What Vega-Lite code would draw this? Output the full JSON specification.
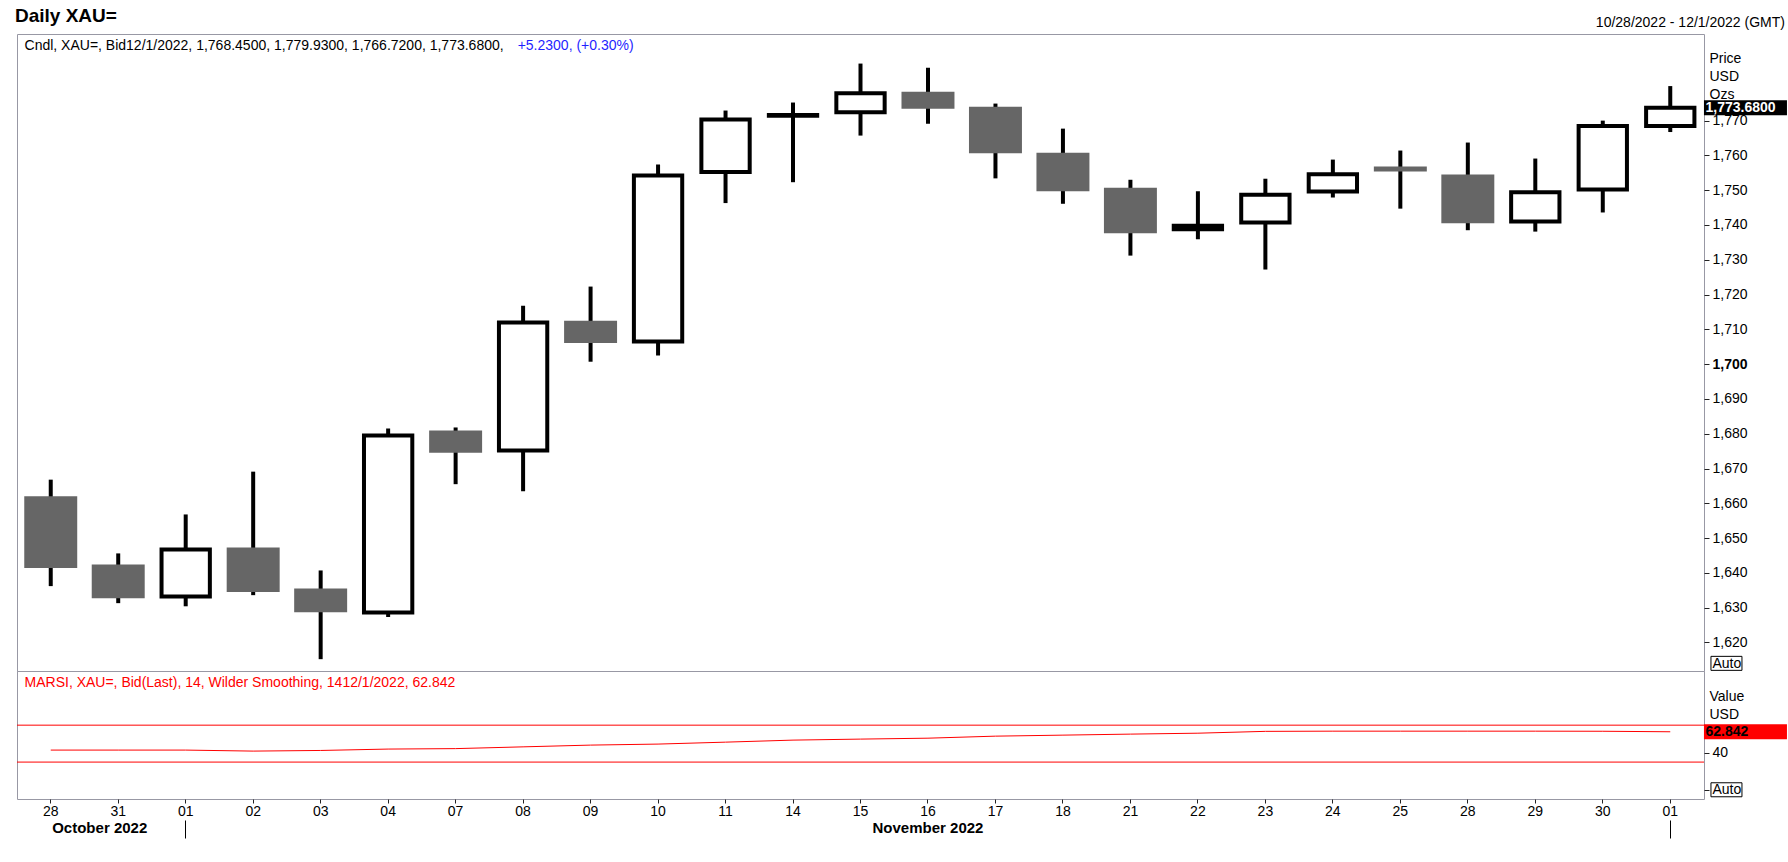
{
  "$schema": "https://vega.github.io/schema/vega-lite/v6.json",
  "description": "Daily XAU= candlesticks with a Wilder-smoothed RSI panel, 28 Oct - 1 Dec 2022.",
  "background": "white",
  "padding": {"left": 15, "top": 6, "right": 0, "bottom": 0},
  "title": {
    "text": "Daily XAU=",
    "anchor": "start",
    "frame": "group",
    "font": "Liberation Sans",
    "fontSize": 19,
    "fontWeight": "bold",
    "color": "black",
    "offset": -10,
    "dx": -2
  },
  "config": {
    "font": "Liberation Sans",
    "view": {"stroke": "#9898a4", "strokeWidth": 1},
    "axis": {
      "labelFont": "Liberation Sans",
      "labelFontSize": 14,
      "labelColor": "black",
      "titleFont": "Liberation Sans",
      "titleFontSize": 14,
      "titleFontWeight": "normal",
      "titleColor": "black",
      "grid": false,
      "domain": false,
      "tickColor": "#222222",
      "labelOverlap": false,
      "labelFlush": false
    }
  },
  "data": {
    "values": [
      {"date": "2022-10-28", "open": 1662.0, "high": 1666.8, "low": 1636.2, "close": 1641.4, "rsi": 43.0},
      {"date": "2022-10-31", "open": 1642.4, "high": 1645.6, "low": 1631.3, "close": 1632.7, "rsi": 43.0},
      {"date": "2022-11-01", "open": 1633.2, "high": 1656.8, "low": 1630.4, "close": 1646.7, "rsi": 43.0},
      {"date": "2022-11-02", "open": 1647.3, "high": 1669.1, "low": 1633.6, "close": 1634.5, "rsi": 41.9},
      {"date": "2022-11-03", "open": 1635.5, "high": 1640.7, "low": 1615.2, "close": 1628.7, "rsi": 42.6},
      {"date": "2022-11-04", "open": 1628.6, "high": 1681.5, "low": 1627.3, "close": 1679.5, "rsi": 44.1},
      {"date": "2022-11-07", "open": 1680.9, "high": 1681.8, "low": 1665.5, "close": 1674.5, "rsi": 44.6},
      {"date": "2022-11-08", "open": 1675.2, "high": 1716.8, "low": 1663.5, "close": 1712.0, "rsi": 46.5},
      {"date": "2022-11-09", "open": 1712.5, "high": 1722.3, "low": 1700.7, "close": 1706.1, "rsi": 48.4},
      {"date": "2022-11-10", "open": 1706.5, "high": 1757.4, "low": 1702.5, "close": 1754.2, "rsi": 49.5},
      {"date": "2022-11-11", "open": 1755.2, "high": 1772.9, "low": 1746.3, "close": 1770.3, "rsi": 51.6},
      {"date": "2022-11-14", "open": 1771.4, "high": 1775.2, "low": 1752.3, "close": 1771.6, "rsi": 53.8},
      {"date": "2022-11-15", "open": 1772.4, "high": 1786.4, "low": 1765.7, "close": 1777.9, "rsi": 54.9},
      {"date": "2022-11-16", "open": 1778.3, "high": 1785.2, "low": 1769.1, "close": 1773.4, "rsi": 55.9},
      {"date": "2022-11-17", "open": 1774.0, "high": 1774.9, "low": 1753.4, "close": 1760.6, "rsi": 58.1},
      {"date": "2022-11-18", "open": 1760.8, "high": 1767.7, "low": 1746.1, "close": 1749.7, "rsi": 59.2},
      {"date": "2022-11-21", "open": 1750.7, "high": 1753.0, "low": 1731.2, "close": 1737.6, "rsi": 60.3},
      {"date": "2022-11-22", "open": 1738.8, "high": 1749.7, "low": 1735.9, "close": 1739.8, "rsi": 61.3},
      {"date": "2022-11-23", "open": 1740.7, "high": 1753.3, "low": 1727.2, "close": 1748.7, "rsi": 63.3},
      {"date": "2022-11-24", "open": 1749.6, "high": 1758.8, "low": 1747.9, "close": 1754.6, "rsi": 63.5},
      {"date": "2022-11-25", "open": 1756.8, "high": 1761.4, "low": 1744.7, "close": 1755.4, "rsi": 63.5},
      {"date": "2022-11-28", "open": 1754.5, "high": 1763.7, "low": 1738.5, "close": 1740.5, "rsi": 63.5},
      {"date": "2022-11-29", "open": 1741.0, "high": 1759.1, "low": 1738.1, "close": 1749.4, "rsi": 63.5},
      {"date": "2022-11-30", "open": 1750.2, "high": 1770.0, "low": 1743.6, "close": 1768.45, "rsi": 63.4},
      {"date": "2022-12-01", "open": 1768.45, "high": 1779.93, "low": 1766.72, "close": 1773.68, "rsi": 62.842}
    ]
  },
  "spacing": 0,
  "bounds": "flush",
  "vconcat": [
    {
      "width": 1687,
      "height": 637,
      "resolve": {"axis": {"y": "independent"}},
      "layer": [
        {
          "mark": {"type": "rule", "color": "black", "strokeWidth": 4},
          "encoding": {
            "x": {"field": "date", "type": "ordinal", "scale": {"type": "band", "paddingInner": 0, "paddingOuter": 0}, "axis": null},
            "y": {
              "field": "low",
              "type": "quantitative",
              "scale": {"domain": [1611.8, 1794.9], "nice": false, "zero": false},
              "axis": {
                "orient": "right",
                "values": [1614, 1620, 1630, 1640, 1650, 1660, 1670, 1680, 1690, 1700, 1710, 1720, 1730, 1740, 1750, 1760, 1770],
                "format": ",d",
                "labelOverlap": false,
                "labelExpr": "datum.value == 1614 ? 'Auto' : datum.label",
                "labelFontWeight": {"condition": {"test": "datum.value == 1700", "value": "bold"}, "value": "normal"},
                "tickOpacity": {"condition": {"test": "datum.value == 1614", "value": 0}, "value": 1},
                "tickSize": 5,
                "labelPadding": 3,
                "title": ["Price", "USD", "Ozs"],
                "titleAngle": 0,
                "titleAlign": "left",
                "titleBaseline": "top",
                "titleX": 5,
                "titleY": 17,
                "titleLineHeight": 18
              }
            },
            "y2": {"field": "high"}
          }
        },
        {
          "transform": [{"filter": "datum.close < datum.open"}],
          "mark": {"type": "bar", "fill": "#666666", "width": {"band": 0.785}},
          "encoding": {
            "x": {"field": "date", "type": "ordinal", "scale": {"type": "band", "paddingInner": 0, "paddingOuter": 0}, "axis": null},
            "y": {"field": "open", "type": "quantitative", "axis": null},
            "y2": {"field": "close"}
          }
        },
        {
          "transform": [{"filter": "datum.close >= datum.open"}],
          "mark": {"type": "bar", "fill": "white", "stroke": "black", "strokeWidth": 4, "width": {"band": 0.716}},
          "encoding": {
            "x": {"field": "date", "type": "ordinal", "scale": {"type": "band", "paddingInner": 0, "paddingOuter": 0}, "axis": null},
            "y": {"field": "open", "type": "quantitative", "axis": null},
            "y2": {"field": "close"}
          }
        },
        {
          "data": {"values": [{"t": "Cndl, XAU=, Bid12/1/2022, 1,768.4500, 1,779.9300, 1,766.7200, 1,773.6800,"}]},
          "mark": {"type": "text", "align": "left", "baseline": "alphabetic", "fontSize": 14, "color": "black", "dx": -26.2, "dy": 15.7},
          "encoding": {
            "x": {"datum": "2022-10-28", "type": "ordinal", "axis": null},
            "y": {"datum": 1794.9, "type": "quantitative", "axis": null},
            "text": {"field": "t"}
          }
        },
        {
          "data": {"values": [{"t": "+5.2300, (+0.30%)"}]},
          "mark": {"type": "text", "align": "left", "baseline": "alphabetic", "fontSize": 14, "color": "#1f1fff", "dx": 466.9, "dy": 15.7},
          "encoding": {
            "x": {"datum": "2022-10-28", "type": "ordinal", "axis": null},
            "y": {"datum": 1794.9, "type": "quantitative", "axis": null},
            "text": {"field": "t"}
          }
        },
        {
          "data": {"values": [{"t": "10/28/2022 - 12/1/2022 (GMT)"}]},
          "mark": {"type": "text", "align": "right", "baseline": "alphabetic", "fontSize": 14, "color": "black", "dx": 114.7, "dy": -6.8},
          "encoding": {
            "x": {"datum": "2022-12-01", "type": "ordinal", "axis": null},
            "y": {"datum": 1794.9, "type": "quantitative", "axis": null},
            "text": {"field": "t"}
          }
        },
        {
          "data": {"values": [{"price": 1773.68, "t": "1,773.6800"}]},
          "mark": {"type": "tick", "orient": "horizontal", "color": "black", "opacity": 1, "size": 83, "thickness": 15, "xOffset": 75.2},
          "encoding": {
            "x": {"datum": "2022-12-01", "type": "ordinal", "axis": null},
            "y": {"field": "price", "type": "quantitative", "axis": null}
          }
        },
        {
          "data": {"values": [{"price": 1773.68, "t": "1,773.6800"}]},
          "mark": {"type": "text", "align": "left", "baseline": "middle", "fontSize": 14, "fontWeight": "bold", "color": "white", "dx": 35.2},
          "encoding": {
            "x": {"datum": "2022-12-01", "type": "ordinal", "axis": null},
            "y": {"field": "price", "type": "quantitative", "axis": null},
            "text": {"field": "t"}
          }
        },
        {
          "data": {"values": [{"price": 1614}]},
          "mark": {"type": "tick", "orient": "horizontal", "filled": false, "color": "black", "opacity": 1, "strokeWidth": 1, "size": 31, "thickness": 14, "xOffset": 56.2},
          "encoding": {
            "x": {"datum": "2022-12-01", "type": "ordinal", "axis": null},
            "y": {"field": "price", "type": "quantitative", "axis": null}
          }
        }
      ]
    },
    {
      "width": 1687,
      "height": 128,
      "resolve": {"axis": {"x": "independent", "y": "independent"}},
      "layer": [
        {
          "data": {"values": [{"level": 70}, {"level": 30}]},
          "mark": {"type": "rule", "color": "red", "strokeWidth": 1},
          "encoding": {
            "y": {
              "field": "level",
              "type": "quantitative",
              "scale": {"domain": [-10, 128.7], "nice": false, "zero": false},
              "axis": {
                "orient": "right",
                "values": [0, 40],
                "labelOverlap": false,
                "labelExpr": "datum.value == 0 ? 'Auto' : datum.label",
                "tickSize": 5,
                "labelPadding": 3,
                "title": ["Value", "USD"],
                "titleAngle": 0,
                "titleAlign": "left",
                "titleBaseline": "top",
                "titleX": 5,
                "titleY": 18,
                "titleLineHeight": 18
              }
            }
          }
        },
        {
          "mark": {"type": "line", "color": "red", "strokeWidth": 1},
          "encoding": {
            "x": {
              "field": "date",
              "type": "ordinal",
              "scale": {"type": "band", "paddingInner": 0, "paddingOuter": 0},
              "axis": {
                "orient": "bottom",
                "title": null,
                "labelExpr": "substring(datum.value, 8, 10)",
                "labelAngle": 0,
                "tickSize": 4,
                "labelPadding": 1
              }
            },
            "y": {"field": "rsi", "type": "quantitative", "axis": null}
          }
        },
        {
          "data": {"values": [{"t": "MARSI, XAU=, Bid(Last),  14, Wilder Smoothing, 1412/1/2022, 62.842"}]},
          "mark": {"type": "text", "align": "left", "baseline": "alphabetic", "fontSize": 14, "color": "red", "dx": -26.2, "dy": 16},
          "encoding": {
            "x": {
              "datum": "2022-10-28",
              "type": "ordinal",
              "axis": {
                "orient": "bottom",
                "offset": 21,
                "title": null,
                "values": ["2022-10-31", "2022-11-01", "2022-11-16", "2022-12-01"],
                "labelExpr": "datum.value == '2022-10-31' ? 'October 2022' : datum.value == '2022-11-16' ? 'November 2022' : ''",
                "labelFontWeight": "bold",
                "labelFontSize": 15,
                "labelAngle": 0,
                "labelOffset": {"condition": {"test": "datum.value == '2022-10-31'", "value": -18.5}, "value": 0},
                "tickSize": 18,
                "tickColor": "black",
                "tickOpacity": {"condition": {"test": "datum.value == '2022-11-01' || datum.value == '2022-12-01'", "value": 1}, "value": 0},
                "labelPadding": -18
              }
            },
            "y": {"datum": 128.7, "type": "quantitative", "axis": null},
            "text": {"field": "t"}
          }
        },
        {
          "data": {"values": [{"v": 62.842, "t": "62.842"}]},
          "mark": {"type": "tick", "orient": "horizontal", "color": "red", "opacity": 1, "size": 83, "thickness": 15, "xOffset": 75.2},
          "encoding": {
            "x": {"datum": "2022-12-01", "type": "ordinal", "axis": null},
            "y": {"field": "v", "type": "quantitative", "axis": null}
          }
        },
        {
          "data": {"values": [{"v": 62.842, "t": "62.842"}]},
          "mark": {"type": "text", "align": "left", "baseline": "middle", "fontSize": 14, "fontWeight": "bold", "color": "black", "dx": 35.2},
          "encoding": {
            "x": {"datum": "2022-12-01", "type": "ordinal", "axis": null},
            "y": {"field": "v", "type": "quantitative", "axis": null},
            "text": {"field": "t"}
          }
        },
        {
          "data": {"values": [{"v": 0}]},
          "mark": {"type": "tick", "orient": "horizontal", "filled": false, "color": "black", "opacity": 1, "strokeWidth": 1, "size": 31, "thickness": 14, "xOffset": 56.2},
          "encoding": {
            "x": {"datum": "2022-12-01", "type": "ordinal", "axis": null},
            "y": {"field": "v", "type": "quantitative", "axis": null}
          }
        }
      ]
    }
  ]
}
